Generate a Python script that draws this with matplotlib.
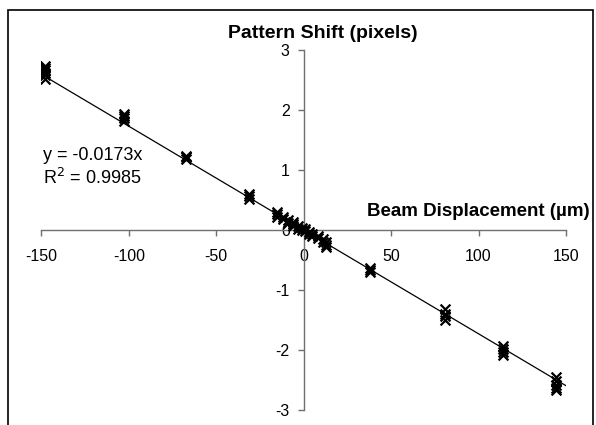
import matplotlib
matplotlib.use("Agg")
import matplotlib.pyplot as plt
from matplotlib.patches import Rectangle

plt.rcParams['font.family'] = ['Liberation Sans', 'DejaVu Sans']
plt.rcParams['axes.unicode_minus'] = False

# Beam displacement (µm) and measured pattern shift (pixels)
displacement = [-148]*6 + [-103]*4 + [-67]*3 + [-31]*3 + [-15]*3 + [-12]*2 + [-9]*2 + [-6]*3 \
    + [-3]*2 + [-1]*2 + [1]*2 + [3]*2 + [5]*2 + [8]*2 + [11]*2 + [13]*3 + [38]*3 + [81]*4 + [114]*4 + [144]*5
shift = [2.52, 2.58, 2.62, 2.66, 2.70, 2.74,
         1.82, 1.86, 1.90, 1.94,
         1.18, 1.21, 1.24,
         0.52, 0.56, 0.60,
         0.22, 0.27, 0.30,
         0.18, 0.22,
         0.12, 0.16,
         0.06, 0.10, 0.13,
         0.02, 0.07,
         0.00, 0.04,
         -0.02, 0.02,
         -0.06, -0.03,
         -0.10, -0.06,
         -0.14, -0.10,
         -0.20, -0.15,
         -0.28, -0.25, -0.20,
         -0.63, -0.67, -0.70,
         -1.32, -1.40, -1.44, -1.50,
         -1.93, -1.98, -2.03, -2.08,
         -2.45, -2.52, -2.58, -2.63, -2.67]
slope = -0.0173
r2 = 0.9985
fit_x = [-150, 153]
x_ticks = [-150, -100, -50, 0, 50, 100, 150]
y_ticks = [-3, -2, -1, 0, 1, 2, 3]

W, H = 596, 425
fig = plt.figure(figsize=(W/100, H/100), dpi=100)
fig.patches.append(Rectangle((8/W, -0.1), (593-8)/W, 1.1 - 10/H, transform=fig.transFigure,
                             fill=False, edgecolor='black', linewidth=1.2))

ax = fig.add_axes([41.3/W, (H-410)/H, (566-41.3)/W, 360/H])
ax.set_xlim(-150, 150)
ax.set_ylim(-3, 3)
ax.patch.set_alpha(0)

ax.plot(fit_x, [slope*v for v in fit_x], color='black', linewidth=0.9, zorder=2)
ax.scatter(displacement, shift, marker='x', s=50, color='black', linewidths=1.6, zorder=3)

for s in ['top', 'right']:
    ax.spines[s].set_visible(False)
ax.spines['left'].set_position(('data', 0))
ax.spines['bottom'].set_position(('data', 0))
for s in ['left', 'bottom']:
    ax.spines[s].set_color('#707070')
    ax.spines[s].set_linewidth(1.0)

ax.set_xticks(x_ticks)
ax.set_yticks(y_ticks)
ax.tick_params(axis='x', direction='out', length=4, width=1, color='#707070', pad=10, labelsize=11.5)
ax.tick_params(axis='y', direction='out', length=4, width=1, color='#707070', pad=6, labelsize=11.5)

fig.text(323/W, 1 - 33/H, 'Pattern Shift (pixels)', ha='center', va='center',
         fontsize=14, fontweight='bold')
fig.text(590/W, 1 - 212/H, 'Beam Displacement (µm)', ha='right', va='center',
         fontsize=13.5, fontweight='bold')
ax.text(-149, 1.25, f'y = {slope}x', fontsize=13, va='center', ha='left')
ax.text(-149, 0.86, f'R$^2$ = {r2}', fontsize=13, va='center', ha='left')

fig.savefig('out.png', dpi=100)
